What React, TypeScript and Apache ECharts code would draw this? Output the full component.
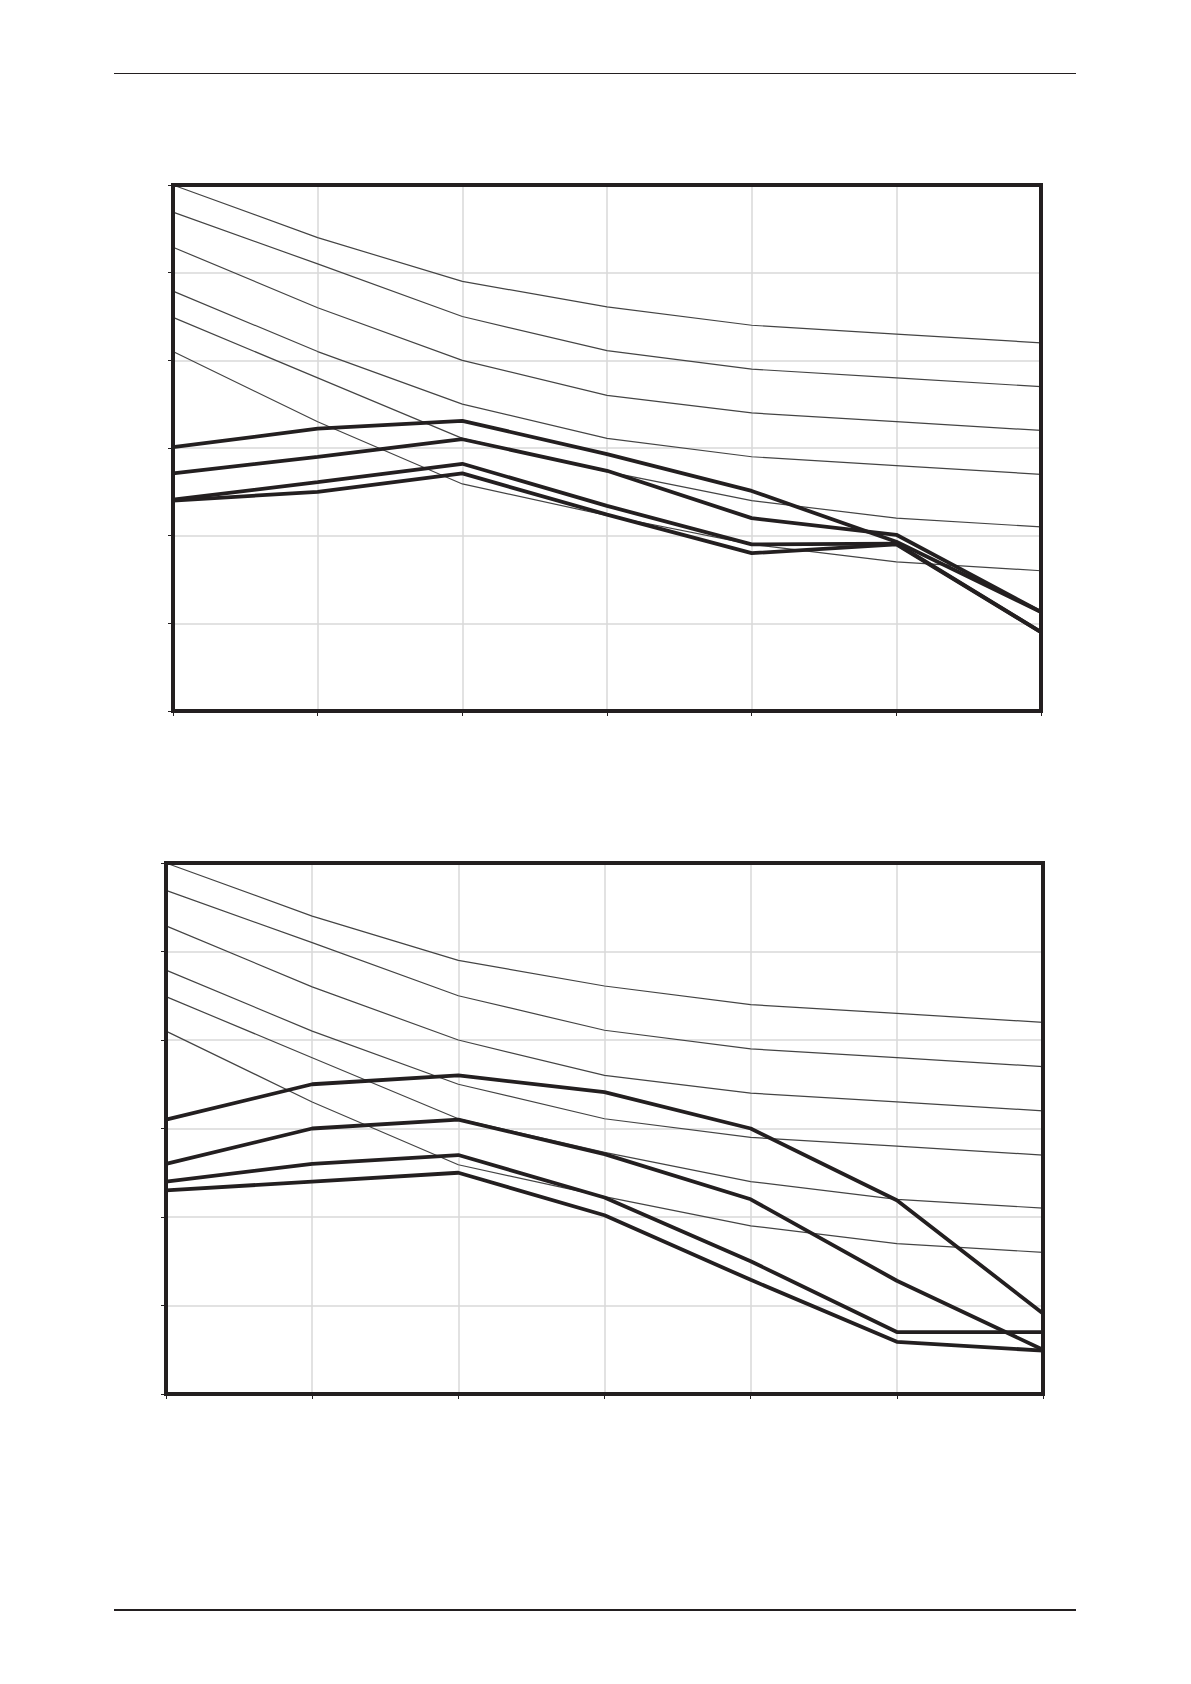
import React, { useEffect, useRef } from "react";
import * as echarts from "echarts";

const categories = ["1", "2", "3", "4", "5", "6", "7"];

// thin reference curves (identical in both panels)
const thin1 = [6.0, 5.4, 4.9, 4.61, 4.4, 4.3, 4.2];
const thin2 = [5.69, 5.1, 4.5, 4.11, 3.9, 3.8, 3.7];
const thin3 = [5.29, 4.6, 4.0, 3.6, 3.4, 3.3, 3.2];
const thin4 = [4.79, 4.1, 3.5, 3.11, 2.9, 2.8, 2.7];
const thin5 = [4.49, 3.8, 3.11, 2.73, 2.4, 2.2, 2.1];
const thin6 = [4.1, 3.3, 2.59, 2.23, 1.9, 1.7, 1.6];

// top panel thick curves
const topA = [3.01, 3.22, 3.31, 2.93, 2.51, 1.93, 1.13];
const topB = [2.71, 2.9, 3.1, 2.74, 2.2, 2.01, 1.13];
const topC = [2.41, 2.61, 2.82, 2.34, 1.9, 1.91, 0.9];
const topD = [2.4, 2.5, 2.71, 2.24, 1.8, 1.9, 0.9];

// bottom panel thick curves
const botA = [3.1, 3.5, 3.6, 3.41, 3.0, 2.19, 0.91];
const botB = [2.6, 3.0, 3.1, 2.71, 2.2, 1.28, 0.5];
const botC = [2.4, 2.6, 2.7, 2.22, 1.5, 0.7, 0.7];
const botD = [2.3, 2.4, 2.5, 2.02, 1.29, 0.59, 0.49];

const thinSets = [thin1, thin2, thin3, thin4, thin5, thin6];
const topThick = [topA, topB, topC, topD];
const botThick = [botA, botB, botC, botD];

const INK = "#231f20";

export default function App() {
  const ref = useRef<HTMLDivElement>(null);
  useEffect(() => {
    if (!ref.current) return;
    const chart = echarts.init(ref.current, null, { renderer: "svg" });
    const grids = [
      { left: 173, top: 185, width: 868, height: 526 },
      { left: 166, top: 863, width: 877, height: 531 },
    ];
    const xAxes = grids.map((_, i) => ({
      type: "category",
      gridIndex: i,
      data: categories,
      boundaryGap: false,
      axisLine: { show: false },
      axisTick: { show: true, inside: false, length: 5, lineStyle: { color: INK, width: 1 } },
      axisLabel: { show: false },
      splitLine: { show: true, lineStyle: { color: "#d9d9d9", width: 1.5 } },
    }));
    const yAxes = grids.map((_, i) => ({
      type: "value",
      gridIndex: i,
      min: 0,
      max: 6,
      interval: 1,
      axisLine: { show: false },
      axisTick: { show: true, inside: false, length: 5, lineStyle: { color: INK, width: 1 } },
      axisLabel: { show: false },
      splitLine: { show: true, lineStyle: { color: "#d9d9d9", width: 1.5 } },
    }));
    const series: any[] = [];
    [0, 1].forEach((g) => {
      thinSets.forEach((d) => {
        series.push({
          type: "line",
          xAxisIndex: g,
          yAxisIndex: g,
          data: d,
          symbol: "none",
          z: 3,
          lineStyle: { color: "#444444", width: 1.2 },
        });
      });
      (g === 0 ? topThick : botThick).forEach((d) => {
        series.push({
          type: "line",
          xAxisIndex: g,
          yAxisIndex: g,
          data: d,
          symbol: "none",
          z: 4,
          lineStyle: { color: INK, width: 3.8 },
        });
      });
    });
    chart.setOption({
      animation: false,
      backgroundColor: "#ffffff",
      grid: grids.map((g) => ({
        ...g,
        show: true,
        borderColor: INK,
        borderWidth: 4,
        backgroundColor: "transparent",
        z: 5,
      })),
      xAxis: xAxes,
      yAxis: yAxes,
      series,
      graphic: [
        {
          type: "line",
          shape: { x1: 114, y1: 73.5, x2: 1076, y2: 73.5 },
          style: { stroke: INK, lineWidth: 1 },
        },
        {
          type: "line",
          shape: { x1: 114, y1: 1610, x2: 1076, y2: 1610 },
          style: { stroke: INK, lineWidth: 2 },
        },
      ],
    });
    return () => chart.dispose();
  }, []);
  return (
    <div
      ref={ref}
      style={{ position: "absolute", left: 0, top: 0, width: 1191, height: 1684 }}
    />
  );
}
